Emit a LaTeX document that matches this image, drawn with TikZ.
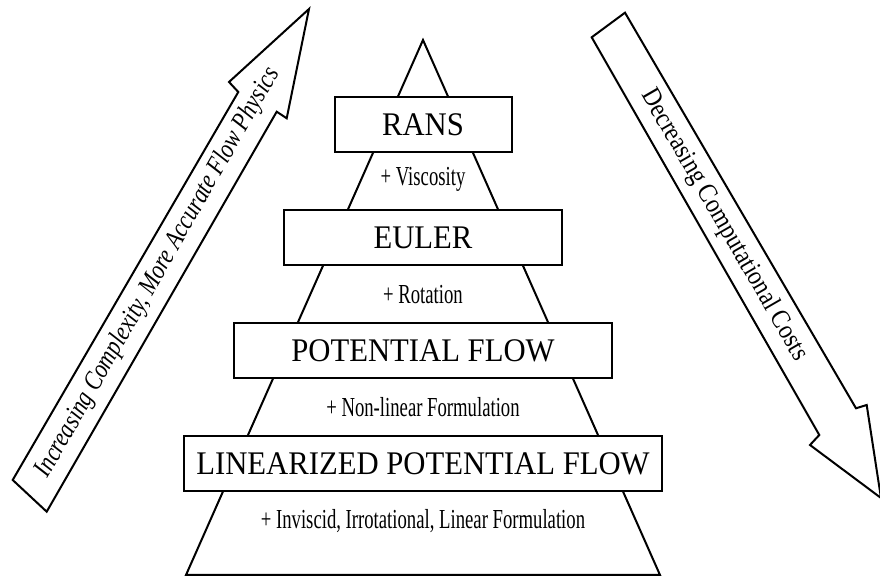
\documentclass[tikz,border=0pt]{standalone}
\usepackage{fontspec}
\setmainfont{Liberation Serif}
\newfontfamily\boxfont{Liberation Serif}[FakeStretch=0.93]
\newfontfamily\stepfont{Liberation Serif}[FakeStretch=0.68]
\newfontfamily\upfont{Liberation Serif}[FakeStretch=0.82]
\newfontfamily\downfont{Liberation Serif}[FakeStretch=0.87]
\usepackage{tikz}
\usetikzlibrary{calc}

\tikzset{
  model/.style={draw, fill=white, line width=1pt, minimum height=27.5pt, inner sep=0pt,
    font=\boxfont\fontsize{16.5}{18}\selectfont},
  stepname/.style={inner sep=0pt, font=\stepfont\fontsize{13.75}{15}\selectfont},
  sidearrow/.style={draw, line width=1pt, line join=miter, fill=white},
}

\begin{document}
\begin{tikzpicture}[x=0.5pt, y=-0.5pt]
            \useasboundingbox (0,0) rectangle (880,576);
            % pyramid
            \draw[line width=1pt] (186,575) -- (423,40) -- (660,575) -- cycle;
            % models
            \node[model, minimum width=88.5pt] (rans) at (423,125) {RANS};
            \node[model, minimum width=139pt] (euler) at (423,238) {EULER};
            \node[model, minimum width=189pt] (pot) at (423,351) {POTENTIAL FLOW};
            \node[model, minimum width=239pt] (lin) at (423,464) {LINEARIZED POTENTIAL FLOW};
            % what is added at each step
            \node[stepname] (visc) at (423,179) {+ Viscosity};
            \node[stepname] (rot) at (423,295) {+ Rotation};
            \node[stepname] (nonlin) at (423,407) {+ Non-linear Formulation};
            \node[stepname] (invisc) at (423,521) {+ Inviscid, Irrotational, Linear Formulation};
            % side arrows
            \draw[sidearrow] (12.7,480) -- (238.3,92) -- (229,82) -- (309,9) -- (286.7,118.3) -- (276.7,111.7) -- (46.7,511.7) -- cycle;
            \node[rotate=60.3, font=\upfont\itshape\fontsize{13.5}{15}\selectfont] (cplx) at (158,273) {Increasing Complexity, More Accurate Flow Physics};
            \begin{scope}
              \clip (0,0) rectangle (880,576);
              \draw[sidearrow] (625,12.7) -- (856,408.3) -- (866.7,405) -- (881,498) -- (810,445) -- (819.3,435) -- (591.7,37.3) -- cycle;
            \end{scope}
            \node[rotate=-60, font=\downfont\fontsize{13.5}{15}\selectfont] (cost) at (724,225) {Decreasing Computational Costs};
        \end{tikzpicture}
\end{document}
